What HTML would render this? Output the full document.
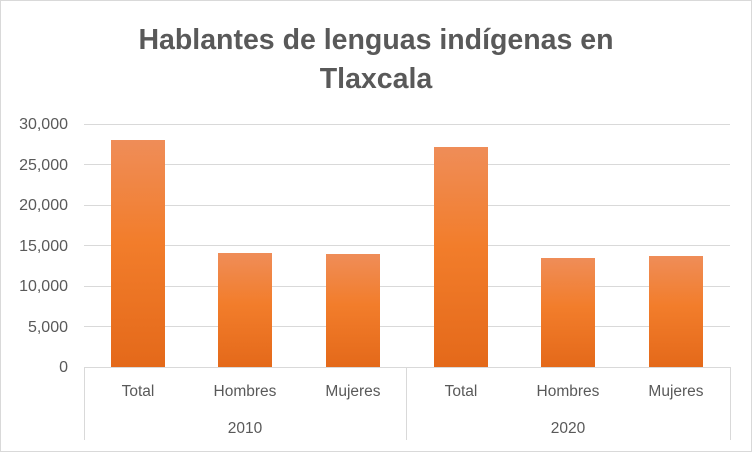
<!DOCTYPE html><html><head><style>body{margin:0;background:#fff}svg{display:block}</style></head><body>
<svg width="752" height="452" xmlns="http://www.w3.org/2000/svg" font-family="Liberation Sans, sans-serif">
<defs><linearGradient id="g" x1="0" y1="0" x2="0" y2="1"><stop offset="0" stop-color="#ef8d58"/><stop offset="0.45" stop-color="#f27d2b"/><stop offset="1" stop-color="#e4691a"/></linearGradient></defs>
<rect x="0.5" y="0.5" width="751" height="451" fill="#fff" stroke="#d9d9d9"/>
<text x="376" y="49" font-size="28.5" font-weight="bold" fill="#595959" text-anchor="middle">Hablantes de lenguas indígenas en</text>
<text x="376" y="88" font-size="28.5" font-weight="bold" fill="#595959" text-anchor="middle">Tlaxcala</text>
<g stroke="#d9d9d9" stroke-width="1">
<line x1="84" x2="730" y1="124.5" y2="124.5"/><line x1="84" x2="730" y1="164.5" y2="164.5"/><line x1="84" x2="730" y1="205.5" y2="205.5"/><line x1="84" x2="730" y1="245.5" y2="245.5"/><line x1="84" x2="730" y1="286.5" y2="286.5"/><line x1="84" x2="730" y1="326.5" y2="326.5"/><line x1="84" x2="730" y1="367.5" y2="367.5"/>
<line x1="84.5" x2="84.5" y1="367" y2="440"/><line x1="406.5" x2="406.5" y1="367" y2="440"/><line x1="730.5" x2="730.5" y1="367" y2="440"/>
</g>
<g font-size="16" fill="#595959" text-anchor="end">
<text x="68" y="129">30,000</text><text x="68" y="170">25,000</text><text x="68" y="210">20,000</text><text x="68" y="251">15,000</text><text x="68" y="291">10,000</text><text x="68" y="332">5,000</text><text x="68" y="372">0</text>
</g>
<g fill="url(#g)">
<rect x="111" y="140" width="54" height="227"/>
<rect x="218" y="253" width="54" height="114"/>
<rect x="326" y="254" width="54" height="113"/>
<rect x="434" y="147" width="54" height="220"/>
<rect x="541" y="258" width="54" height="109"/>
<rect x="649" y="256" width="54" height="111"/>
</g>
<g font-size="15.5" fill="#595959" text-anchor="middle">
<text x="138" y="396">Total</text><text x="245" y="396">Hombres</text><text x="353" y="396">Mujeres</text>
<text x="461" y="396">Total</text><text x="568" y="396">Hombres</text><text x="676" y="396">Mujeres</text>
<text x="245" y="433">2010</text><text x="568" y="433">2020</text>
</g>
</svg></body></html>
